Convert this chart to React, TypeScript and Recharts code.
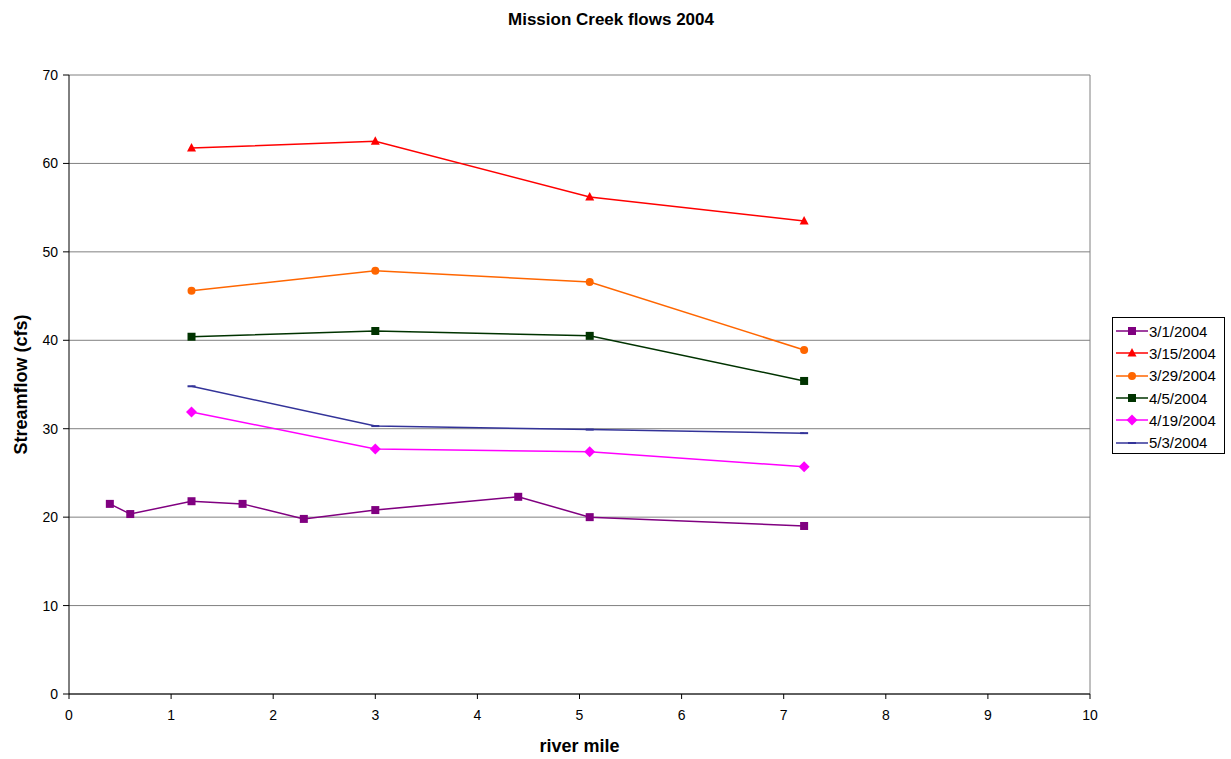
import React from 'react';
import { LineChart, Line, XAxis, YAxis, CartesianGrid, ReferenceLine } from 'recharts';

// river mile positions
const milesMarch1 = [0.4, 0.6, 1.2, 1.7, 2.3, 3.0, 4.4, 5.1, 7.2];
const milesMain = [1.2, 3.0, 5.1, 7.2];

// streamflow (cfs) per survey date
const flowMar1 = [21.5, 20.35, 21.8, 21.5, 19.8, 20.8, 22.3, 20.0, 19.0];
const flowMar15 = [61.75, 62.5, 56.2, 53.5];
const flowMar29 = [45.6, 47.85, 46.6, 38.9];
const flowApr5 = [40.4, 41.05, 40.5, 35.4];
const flowApr19 = [31.9, 27.7, 27.4, 25.7];
const flowMay3 = [34.8, 30.3, 29.9, 29.5];

const xTicks = [0, 1, 2, 3, 4, 5, 6, 7, 8, 9, 10];
const yTicks = [0, 10, 20, 30, 40, 50, 60, 70];

const FONT = '"Liberation Sans", Arial, sans-serif';

type Shape = 'square' | 'triangle' | 'circle' | 'diamond' | 'dash';

const toPoints = (miles: number[], flows: number[]) =>
  miles.map((mile, i) => ({ mile, flow: flows[i] }));

const series: { name: string; color: string; shape: Shape; data: { mile: number; flow: number }[] }[] = [
  { name: '3/1/2004', color: '#800080', shape: 'square', data: toPoints(milesMarch1, flowMar1) },
  { name: '3/15/2004', color: '#FF0000', shape: 'triangle', data: toPoints(milesMain, flowMar15) },
  { name: '3/29/2004', color: '#FF6600', shape: 'circle', data: toPoints(milesMain, flowMar29) },
  { name: '4/5/2004', color: '#003300', shape: 'square', data: toPoints(milesMain, flowApr5) },
  { name: '4/19/2004', color: '#FF00FF', shape: 'diamond', data: toPoints(milesMain, flowApr19) },
  { name: '5/3/2004', color: '#333399', shape: 'dash', data: toPoints(milesMain, flowMay3) },
];

const Marker = ({ cx, cy, color, shape }: { cx: number; cy: number; color: string; shape: Shape }) => {
  switch (shape) {
    case 'square':
      return <rect x={cx - 4} y={cy - 4} width={8} height={8} fill={color} />;
    case 'triangle':
      return <polygon points={`${cx},${cy - 5} ${cx + 4.5},${cy + 3.5} ${cx - 4.5},${cy + 3.5}`} fill={color} />;
    case 'circle':
      return <circle cx={cx} cy={cy} r={4} fill={color} />;
    case 'diamond':
      return <polygon points={`${cx},${cy - 5.5} ${cx + 5.5},${cy} ${cx},${cy + 5.5} ${cx - 5.5},${cy}`} fill={color} />;
    default:
      return <rect x={cx - 4} y={cy - 1} width={8} height={2} fill={color} />;
  }
};

// legend drawn as a plain box to the right of the plot
const LegendBox = () => (
  <div
    style={{
      position: 'absolute',
      left: 1112,
      top: 317,
      width: 111,
      height: 133,
      border: '1px solid #000',
      background: '#fff',
      paddingTop: 2,
      boxSizing: 'content-box',
      fontFamily: FONT,
      fontSize: 15,
    }}
  >
    {series.map((s) => (
      <div key={s.name} style={{ display: 'flex', alignItems: 'center', height: 22.3 }}>
        <svg width={33} height={14} style={{ marginLeft: 2, flex: 'none' }}>
          <line x1={1} y1={7} x2={33} y2={7} stroke={s.color} strokeWidth={1.5} />
          <Marker cx={17} cy={7} color={s.color} shape={s.shape} />
        </svg>
        <span style={{ marginLeft: 1 }}>{s.name}</span>
      </div>
    ))}
  </div>
);

const App: React.FC = () => {
  return (
    <div style={{ position: 'absolute', left: 0, top: 0, width: 1231, height: 759, background: '#fff' }}>
      <div
        style={{
          position: 'absolute',
          top: 10,
          left: 0,
          width: 1222,
          textAlign: 'center',
          fontFamily: FONT,
          fontWeight: 'bold',
          fontSize: 17,
        }}
      >
        Mission Creek flows 2004
      </div>
      <LineChart width={1231} height={759} margin={{ top: 75, right: 141, bottom: 25, left: 9 }}>
        <CartesianGrid horizontal vertical={false} stroke="#808080" strokeWidth={1} />
        <XAxis
          type="number"
          dataKey="mile"
          domain={[0, 10]}
          ticks={xTicks}
          height={40}
          allowDuplicatedCategory={false}
          stroke="#000"
          tickSize={5}
          tickMargin={11}
          tick={{ fill: '#000', fontSize: 14, fontFamily: FONT }}
          label={{ value: 'river mile', position: 'insideBottom', offset: -18, fill: '#000', fontSize: 18, fontWeight: 'bold', fontFamily: FONT }}
        />
        <YAxis
          type="number"
          dataKey="flow"
          domain={[0, 70]}
          ticks={yTicks}
          width={60}
          stroke="#000"
          tickSize={6}
          tickMargin={5}
          tick={{ fill: '#000', fontSize: 14, fontFamily: FONT }}
          label={{ value: 'Streamflow (cfs)', angle: -90, position: 'insideLeft', offset: 12, style: { textAnchor: 'middle' }, fill: '#000', fontSize: 18, fontWeight: 'bold', fontFamily: FONT }}
        />
        <ReferenceLine x={10} stroke="#808080" />
        {series.map((s) => (
          <Line
            key={s.name}
            data={s.data}
            dataKey="flow"
            name={s.name}
            stroke={s.color}
            strokeWidth={1.5}
            isAnimationActive={false}
            dot={(p: any) => <Marker key={`${s.name}-${p.index}`} cx={p.cx} cy={p.cy} color={s.color} shape={s.shape} />}
            activeDot={false}
          />
        ))}
      </LineChart>
      <LegendBox />
    </div>
  );
};

export default App;
